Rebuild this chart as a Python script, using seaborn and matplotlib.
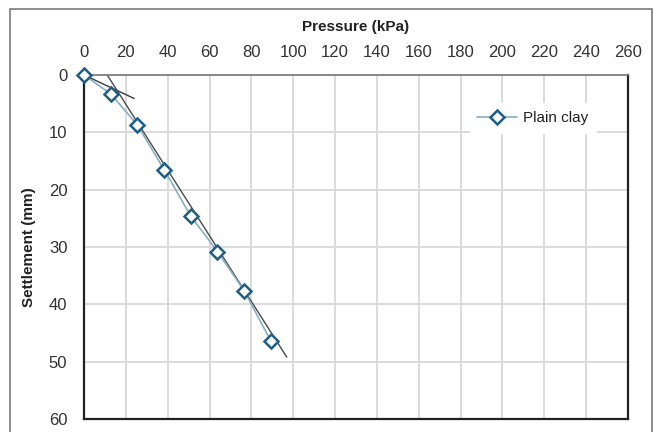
import numpy as np
import pandas as pd
import matplotlib
matplotlib.use("Agg")
import matplotlib.pyplot as plt
import seaborn as sns

# measured load-settlement points
pressure = [0, 12.8, 25.5, 38.3, 51.0, 63.8, 76.5, 89.3]
settlement = [0, 3.3, 8.7, 16.5, 24.6, 30.8, 37.6, 46.4]

# tangent lines (start / end points)
tangent1_x = [0, 24.0]
tangent1_y = [0, 4.1]
tangent2_x = [11.1, 96.9]
tangent2_y = [0, 49.2]

x_ticks = list(range(0, 261, 20))
y_ticks = list(range(0, 61, 10))

sns.set_theme(style="white")
plt.rcParams['font.family'] = ['Liberation Sans', 'DejaVu Sans']

df = pd.DataFrame({'Pressure': pressure, 'Settlement': settlement, 'series': 'Plain clay'})

fig = plt.figure(figsize=(6.54, 4.32), dpi=100)
ax = fig.add_axes([84 / 654, 1 - 419 / 432, 544 / 654, 344 / 432])

# outer frame around the whole chart
fig.patches.append(plt.Rectangle((10 / 654, -0.05), 642 / 654, 1.05 - 9 / 432,
                                 transform=fig.transFigure, fill=False,
                                 edgecolor='#7a7a7a', linewidth=1.2))

ax.plot(tangent1_x, tangent1_y, color='#3a3a3a', linewidth=1.0, zorder=2)
ax.plot(tangent2_x, tangent2_y, color='#4a4a4a', linewidth=1.0, zorder=2)

sns.lineplot(data=df, x='Pressure', y='Settlement', hue='series', sort=False,
             palette=['#86aec6'], marker='D', markersize=7.5, markerfacecolor='white',
             markeredgecolor='#1d5f85', markeredgewidth=1.8, linewidth=1.2,
             ax=ax, zorder=3)
for ln in ax.lines:
    ln.set_clip_on(False)

ax.set_xlim(0, 260)
ax.set_ylim(60, 0)
ax.set_xticks(x_ticks)
ax.set_yticks(y_ticks)
ax.xaxis.tick_top()
ax.xaxis.set_label_position('top')
ax.tick_params(axis='both', length=0, labelsize=12, colors='#333333')
ax.tick_params(axis='x', pad=11)
ax.tick_params(axis='y', pad=12)

ax.grid(True, color='#d9d9d9', linewidth=1.3)
ax.set_axisbelow(True)

ax.set_xlabel('Pressure (kPa)', fontsize=11, fontweight='bold', color='#222222', labelpad=10)
ax.set_ylabel('Settlement (mm)', fontsize=11, fontweight='bold', color='#222222', labelpad=9)

for side in ['left', 'bottom', 'right']:
    ax.spines[side].set_color('#222222')
    ax.spines[side].set_linewidth(1.6)
ax.spines['top'].set_color('#777777')
ax.spines['top'].set_linewidth(1.2)

handles, labels = ax.get_legend_handles_labels()
leg = ax.legend(handles, labels, loc='upper right', bbox_to_anchor=(0.955, 0.94),
                frameon=True, fontsize=11, handlelength=2.6, handletextpad=0.4,
                borderpad=0.5)
leg.get_frame().set_edgecolor('white')
leg.get_frame().set_facecolor('white')
leg.get_frame().set_alpha(1)
for t in leg.get_texts():
    t.set_color('#222222')

fig.savefig('out.png', dpi=100)
